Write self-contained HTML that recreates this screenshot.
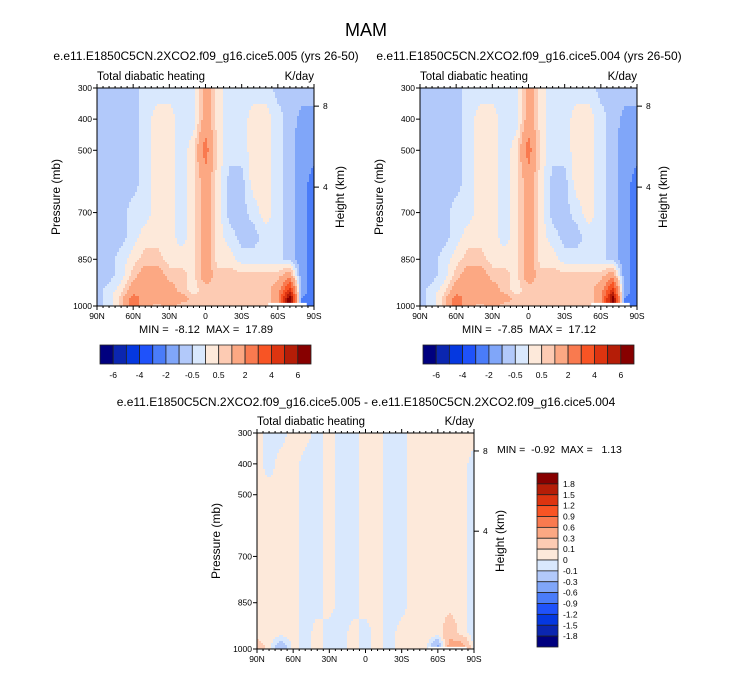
<!DOCTYPE html>
<html><head><meta charset="utf-8"><style>
body{margin:0;background:#fff;}
svg text{font-family:"Liberation Sans",Arial,sans-serif;fill:#000;white-space:pre;}
</style></head><body>
<svg id="s" width="733" height="673" xmlns="http://www.w3.org/2000/svg">
<text x="366" y="36" font-size="18" text-anchor="middle">MAM</text>
</svg>
<script>
// ---- data ----
const lats = [90,80,70,60,50,40,30,20,10,0,-10,-20,-30,-40,-50,-60,-70,-80,-90];
const levelsTop = [300,400,500,600,700,775,850,900,950,975,1000];
const fieldA = [
[-0.7,-0.7,-0.7,-0.7,-0.3,-0.3,-0.3,-0.3,-0.3,1.5,0.3,-0.3,-0.3,-0.3,-0.3,-0.7,-0.7,-0.7,-0.7],
[-0.7,-0.7,-0.7,-0.7,-0.3,0.3,0.3,-0.3,-0.3,1.5,0.3,-0.3,-0.3,0.3,0.3,-0.3,-0.7,-1.2,-1.2],
[-0.7,-0.7,-0.7,-0.7,-0.3,0.3,0.3,-0.3,0.3,2.5,0.3,-0.3,-0.3,0.3,0.3,-0.3,-0.7,-1.5,-1.5],
[-0.7,-0.7,-0.7,-0.7,-0.3,0.3,0.3,-0.3,0.3,1.5,0.3,-0.7,-0.7,0.3,0.3,-0.3,-0.7,-1.5,-2.5],
[-0.7,-0.7,-0.7,-0.3,-0.3,0.3,0.3,-0.3,0.3,1.5,0.3,-0.7,-0.7,-0.3,0.3,-0.3,-0.7,-1.5,-2.5],
[-0.7,-0.7,-0.7,-0.3,0.3,0.3,0.3,-0.3,0.3,1.5,0.3,-0.3,-0.7,-0.7,-0.3,-0.3,-0.7,-1.5,-2.5],
[-0.7,-0.7,-0.3,0.3,0.7,0.7,0.3,0.3,0.3,1.5,0.3,0.3,-0.3,-0.3,-0.3,-0.3,-0.7,-1.5,-2.5],
[-0.7,-0.7,-0.3,0.7,1.5,1.5,0.7,0.7,0.3,1.5,0.7,0.7,0.7,0.7,0.7,0.7,1.5,-1.5,-2.5],
[-0.7,-0.3,0.3,1.5,1.5,1.5,1.5,0.7,0.3,0.7,0.7,0.7,0.7,0.7,0.7,1.5,4.5,-1.5,-2.5],
[-0.7,-0.3,0.7,2.5,1.5,1.5,1.5,1.5,0.7,0.7,0.7,0.7,0.7,0.7,0.7,1.5,7,-2,-2.5],
[-0.7,-0.3,0.7,2.5,1.5,0.7,1.5,0.7,0.7,0.7,0.7,0.7,0.7,0.7,0.7,1.5,7,-2,-2.5]];
const fieldB = [
[-0.7,-0.7,-0.7,-0.7,-0.3,-0.3,-0.3,-0.3,-0.3,1.5,0.3,-0.3,-0.3,-0.3,-0.3,-0.7,-0.7,-0.7,-0.7],
[-0.7,-0.7,-0.7,-0.7,-0.3,0.3,0.3,-0.3,-0.3,1.5,0.3,-0.3,-0.3,0.3,0.3,-0.3,-0.7,-1.2,-1.2],
[-0.7,-0.7,-0.7,-0.7,-0.3,0.3,0.3,-0.3,0.3,2.5,0.3,-0.3,-0.3,0.3,0.3,-0.3,-0.7,-1.5,-1.5],
[-0.7,-0.7,-0.7,-0.7,-0.3,0.3,0.3,-0.3,0.3,1.5,0.3,-0.7,-0.7,0.3,0.3,-0.3,-0.7,-1.5,-2.5],
[-0.7,-0.7,-0.7,-0.3,-0.3,0.3,0.3,-0.3,0.3,1.5,0.3,-0.7,-0.7,-0.3,0.3,-0.3,-0.7,-1.5,-2.5],
[-0.7,-0.7,-0.7,-0.3,0.3,0.3,0.3,-0.3,0.3,1.5,0.3,-0.3,-0.7,-0.7,-0.3,-0.3,-0.7,-1.5,-2.5],
[-0.7,-0.7,-0.3,0.3,0.7,0.7,0.3,0.3,0.3,1.5,0.3,0.3,-0.3,-0.3,-0.3,-0.3,-0.7,-1.5,-2.5],
[-0.7,-0.7,-0.3,0.7,1.5,1.5,0.7,0.7,0.3,1.5,0.7,0.7,0.7,0.7,0.7,0.7,1.5,-1.5,-2.5],
[-0.7,-0.3,0.3,1.5,1.5,1.5,1.5,0.7,0.3,0.7,0.7,0.7,0.7,0.7,0.7,1.5,4.5,-1.5,-2.5],
[-0.7,-0.3,0.7,2.5,1.5,1.5,1.5,1.5,0.7,0.7,0.7,0.7,0.7,0.7,0.7,1.5,6.5,-2,-2.5],
[-0.7,-0.3,0.7,2.5,1.5,0.7,1.5,0.7,0.7,0.7,0.7,0.7,0.7,0.7,0.7,1.5,6.5,-2,-2.5]];
const levelsDiff = [300,400,500,700,850,950,1000];
const fieldDiff = [
[0.05,-0.05,-0.05,0.05,0.05,-0.05,0.05,-0.05,-0.05,0.05,0.05,-0.05,-0.05,0.05,0.05,0.05,0.05,0.05,0.05],
[0.05,-0.05,0.05,0.05,-0.05,-0.05,0.05,-0.05,-0.05,0.05,0.05,-0.05,-0.05,0.05,0.05,0.05,0.05,0.05,-0.05],
[0.05,0.05,0.05,0.05,-0.05,-0.05,0.05,-0.05,-0.05,0.05,0.05,-0.05,-0.05,0.05,0.05,0.05,0.05,0.05,-0.05],
[0.05,0.05,0.05,0.05,-0.05,-0.05,0.05,-0.05,-0.05,0.05,0.05,-0.05,-0.05,0.05,0.05,0.05,0.05,0.05,-0.05],
[0.05,0.05,0.05,0.05,-0.05,-0.05,0.05,-0.05,-0.05,0.05,0.05,-0.05,-0.05,0.05,0.05,0.05,0.05,0.05,-0.05],
[0.05,0.05,0.05,0.05,-0.05,0.05,-0.05,-0.05,0.05,-0.05,0.05,-0.05,0.05,0.05,0.05,0.05,0.2,0.05,-0.05],
[0.2,0.05,-0.3,0.05,-0.05,0.05,-0.05,-0.05,0.05,-0.05,0.05,-0.05,0.05,0.05,0.05,-0.4,0.5,0.5,-0.05]];
const contourLevels = [-6,-5,-4,-3,-2,-1,-0.5,0,0.5,1,2,3,4,5,6];
const contourLabels = ["-6","-4","-2","-0.5","0.5","2","4","6"];
const diffLevels = [-1.8,-1.5,-1.2,-0.9,-0.6,-0.3,-0.1,0,0.1,0.3,0.6,0.9,1.2,1.5,1.8];
const xTickLats = [90,60,30,0,-30,-60,-90];
const xTickLabels = ["90N","60N","30N","0","30S","60S","90S"];
const pTicks = [300,400,500,700,850,1000];
const hTicks = [8,4];
const colors = ["#00007f","#0b26b0","#0538e0","#1f52fa","#4a7cf9","#80a6f9","#b2c9fa","#d9e8fd","#fde9da","#fdcbb3","#fca883","#f97a4f","#f85424","#dd3410","#b51d07","#870000"];
const NS="http://www.w3.org/2000/svg";
const svg=document.getElementById('s');
function el(tag,attrs,parent){const e=document.createElementNS(NS,tag);for(const k in attrs)e.setAttribute(k,attrs[k]);(parent||svg).appendChild(e);return e;}
function txt(x,y,s,size,anchor,name,extra){const t=el('text',Object.assign({x:x,y:y,'font-size':size,'text-anchor':anchor||'start'},extra||{}));t.textContent=s;return t;}
function colorIdx(v,lv){let i=0;while(i<lv.length&&v>=lv[i])i++;return i;}
function interp(field,levs,lat,p){
  let fi=(90-lat)/10; fi=Math.max(0,Math.min(lats.length-1.0001,fi));
  let j=0; while(j<levs.length-2&&p>levs[j+1])j++;
  let fj=(p-levs[j])/(levs[j+1]-levs[j]); fj=Math.max(0,Math.min(1,fj));
  const i=Math.floor(fi),a=fi-i;
  const v00=field[j][i],v01=field[j][i+1],v10=field[j+1][i],v11=field[j+1][i+1];
  return (v00*(1-a)+v01*a)*(1-fj)+(v10*(1-a)+v11*a)*fj;
}
function panel(x0,y0,w,h,field,levs,lv,key,mask){
  const g=el('g',{});
  
  
  const X=lat=>x0+(90-lat)/180*w;
  const Y=p=>y0+(p-300)/700*h;
  const step=2, nx=Math.ceil(w/step), ny=Math.ceil(h/step);
  for(let r=0;r<ny;r++){
    const yy=y0+r*step, p=300+((r+0.5)*step)/h*700;
    let start=0, cur=-1;
    for(let c=0;c<=nx;c++){
      let ci=-1;
      if(c<nx){const lat=90-((c+0.5)*step)/w*180;ci=colorIdx(interp(field,levs,lat,p),lv);}
      if(ci!==cur){
        if(cur>=0){const rr=el('rect',{x:x0+start*step,y:yy,width:Math.min((c-start)*step,w-start*step)+0.5,height:Math.min(step,y0+h-yy)+0.5,fill:colors[cur]},g);
          
          }
        start=c;cur=ci;
      }
    }
  }
  if(mask){const m=el('rect',{x:X(mask[0]),y:Y(mask[2]),width:X(mask[1])-X(mask[0]),height:Y(1000)-Y(mask[2]),fill:'#fff'},g);
    
    }
  const fr=el('rect',{x:x0,y:y0,width:w,height:h,fill:'none',stroke:'#000','stroke-width':1});
  
  
  xTickLats.forEach((la,i)=>{
    el('line',{x1:X(la),x2:X(la),y1:y0+h,y2:y0+h+4,stroke:'#000'});
    el('line',{x1:X(la),x2:X(la),y1:y0,y2:y0-4,stroke:'#000'});
    txt(X(la),y0+h+13,xTickLabels[i],8.5,'middle',key+'-x-tick-label');
  });
  for(let la=85;la>-90;la-=5){if(la%30){el('line',{x1:X(la),x2:X(la),y1:y0+h,y2:y0+h+2,stroke:'#000'});el('line',{x1:X(la),x2:X(la),y1:y0,y2:y0-2,stroke:'#000'});}}
  pTicks.forEach(p=>{el('line',{x1:x0-4,x2:x0,y1:Y(p),y2:Y(p),stroke:'#000'});txt(x0-5,Y(p)+3,String(p),8.5,'end',key+'-y-tick-label');});
  hTicks.forEach(z=>{const p=1067*Math.exp(-z/7.33);el('line',{x1:x0+w,x2:x0+w+5,y1:Y(p),y2:Y(p),stroke:'#000'});txt(x0+w+9,Y(p)+3,String(z),8.5,'start',key+'-height-tick-label');});
  txt(x0-37,y0+h/2,'Pressure (mb)',12,'middle',key+'-y-axis-title',{transform:`rotate(-90 ${x0-37} ${y0+h/2})`});
  txt(x0+w+30,y0+h/2,'Height (km)',12,'middle',key+'-height-axis-title',{transform:`rotate(-90 ${x0+w+30} ${y0+h/2})`});
  txt(x0,y0-8,'Total diabatic heating',11.5,'start',key+'-variable-label');
  txt(x0+w,y0-8,'K/day',11.5,'end',key+'-units-label');
}
function hbar(x0,y0,w,h,key){
  const bw=w/colors.length;
  colors.forEach((c,i)=>{const r=el('rect',{x:x0+i*bw,y:y0,width:bw,height:h,fill:c,stroke:'#222','stroke-width':0.8});
    
    });
  contourLevels.forEach((lv,i)=>{if(i%2===0)txt(x0+(i+1)*bw,y0+h+14,contourLabels[i/2],8.5,'middle',key+'-colorbar-label');});
}
panel(97,88,217,218,fieldA,levelsTop,contourLevels,'left',[-52,-84,990]);
txt(206,60,'e.e11.E1850C5CN.2XCO2.f09_g16.cice5.005 (yrs 26-50)',12,'middle','left-panel-title');
txt(206,333,'MIN =  -8.12  MAX =  17.89',11,'middle','left-min-max');
hbar(100,345,211,19,'left');
panel(420,88,217,218,fieldB,levelsTop,contourLevels,'right',[-52,-84,990]);
txt(529,60,'e.e11.E1850C5CN.2XCO2.f09_g16.cice5.004 (yrs 26-50)',12,'middle','right-panel-title');
txt(529,333,'MIN =  -7.85  MAX =  17.12',11,'middle','right-min-max');
hbar(423,345,211,19,'right');
panel(257,433,217,216,fieldDiff,levelsDiff,diffLevels,'diff',[-52,-84,993]);
txt(366,406,'e.e11.E1850C5CN.2XCO2.f09_g16.cice5.005 - e.e11.E1850C5CN.2XCO2.f09_g16.cice5.004',12,'middle','diff-panel-title');
txt(497,453,'MIN =  -0.92  MAX =   1.13',10.5,'start','diff-min-max');
(function(){const x0=537,y0=473,w=21,h=174,bh=h/colors.length;
  colors.slice().reverse().forEach((c,i)=>{const r=el('rect',{x:x0,y:y0+i*bh,width:w,height:bh,fill:c,stroke:'#222','stroke-width':0.8});
    
    });
  diffLevels.slice().reverse().forEach((lv,i)=>{txt(x0+w+5,y0+(i+1)*bh+3,String(lv),8.5,'start','diff-colorbar-label');});
})();
</script>
</body></html>
